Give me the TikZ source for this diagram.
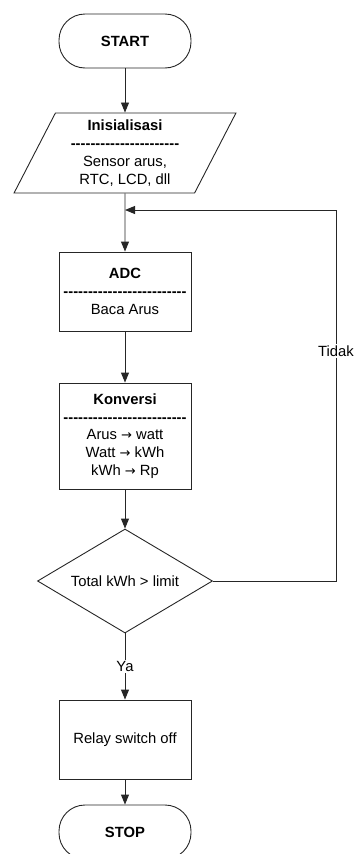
\documentclass[tikz,border=0pt]{standalone}
\usepackage{fontspec}
\newfontfamily\flowfont{Liberation Sans}
\newfontfamily\arrowfont{DejaVu Sans}
\usetikzlibrary{arrows.meta,positioning,shapes.geometric}

\newcommand{\dashsep}[1]{\textbf{\foreach \k in {1,...,#1}{-}}}
\newcommand{\conv}{{\arrowfont\fontsize{13pt}{17.8pt}\selectfont →}}

\begin{document}
\begin{tikzpicture}[
  x=1pt, y=-1pt,
  font=\flowfont\fontsize{14.8pt}{17.8pt}\selectfont,
  >={Triangle[length=10pt,width=8pt]},
  terminal/.style={
    draw=black!85,
    line width=0.9pt,
    rounded corners=26pt,
    minimum width=132pt,
    minimum height=54pt,
    inner sep=0pt
  },
  process/.style={
    draw=black!85,
    line width=0.9pt,
    align=center,
    minimum width=132pt,
    minimum height=79pt,
    inner sep=0pt
  },
  inputbox/.style={
    trapezium,
    trapezium left angle=64,
    trapezium right angle=116,
    trapezium stretches=true,
    draw=black!85,
    line width=0.9pt,
    align=center,
    minimum width=222pt,
    minimum height=80pt,
    inner sep=0pt
  },
  decision/.style={
    diamond,
    draw=black!85,
    line width=0.9pt,
    aspect=1.68,
    minimum width=175pt,
    minimum height=104pt,
    inner sep=0pt
  },
  flow/.style={->,line width=0.9pt,draw=black!85},
  answer/.style={fill=white,inner sep=1.5pt}
]
  \useasboundingbox (0,0) rectangle (355,854);

  % Main column of the flowchart.
  \node[terminal] (start) at (125,41) {\textbf{START}};
  \node[inputbox] (init) at (125,153) {
    \textbf{Inisialisasi}\\
    \dashsep{22}\\
    Sensor arus,\\
    RTC, LCD, dll
  };
  \node[process] (adc) at (125,291.5) {
    \textbf{ADC}\\
    \dashsep{25}\\
    Baca Arus
  };
  \node[process,minimum height=106pt] (konversi) at (125,436) {
    \textbf{Konversi}\\
    \dashsep{25}\\
    Arus \conv{} watt\\
    Watt \conv{} kWh\\
    kWh \conv{} Rp
  };
  \node[decision] (check) at (125,581) {Total kWh > limit};
  \node[process] (relay) at (125,739.5) {Relay switch off};
  \node[terminal] (stop) at (125,832) {\textbf{STOP}};

  \draw[flow] (start) -- (init);
  \draw[flow] (init) -- (adc);
  \draw[flow] (adc) -- (konversi);
  \draw[flow] (konversi) -- (check);
  \draw[flow] (check) -- node[answer] {Ya} (relay);
  \draw[flow] (relay) -- (stop);

  % Loop back above the ADC step.
  \coordinate (loopjoin) at (125,210);
  \coordinate (loopright) at (336,210);
  \draw[flow] (check.east) -| node[answer,pos=0.81] {Tidak} (loopright) -- (loopjoin);
\end{tikzpicture}
\end{document}
